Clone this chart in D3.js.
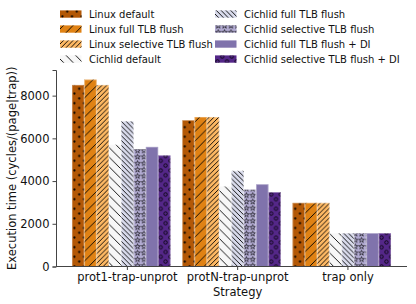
<!DOCTYPE html>
<html>
<head>
<meta charset="utf-8">
<script src="https://cdn.jsdelivr.net/npm/d3@7"></script>
<style>
  body { margin: 0; background: #fff; }
  text { font-family: "DejaVu Sans", sans-serif; fill: #111; }
</style>
</head>
<body>
<div id="chart"></div>
<script>
// ---- DATA ----
const groups = ["prot1-trap-unprot", "protN-trap-unprot", "trap only"];
const series = [
  "Linux default", "Linux full TLB flush", "Linux selective TLB flush", "Cichlid default",
  "Cichlid full TLB flush", "Cichlid selective TLB flush", "Cichlid full TLB flush + DI",
  "Cichlid selective TLB flush + DI"
];
const linuxDefault = [8500, 6850, 2980];
const linuxFull = [8750, 7000, 2980];
const linuxSelective = [8500, 7000, 2980];
const cichlidDefault = [5700, 3750, 1560];
const cichlidFull = [6800, 4480, 1560];
const cichlidSelective = [5500, 3600, 1560];
const cichlidFullDI = [5600, 3850, 1560];
const cichlidSelectiveDI = [5200, 3480, 1560];
const yTicks = [0, 2000, 4000, 6000, 8000];

const values = [linuxDefault, linuxFull, linuxSelective, cichlidDefault,
  cichlidFull, cichlidSelective, cichlidFullDI, cichlidSelectiveDI];
const colors = ["#b35806", "#e08214", "#fdb863", "#f7f7f7", "#d8daeb", "#b2abd2", "#8073ac", "#542788"];
const hatches = ["dots", "slash", "dslash", "back", "dback", "star", "none", "ring"];

const rows = [];
groups.forEach((g, gi) => {
  series.forEach((s, si) => rows.push({ group: g, series: s, si: si, value: values[si][gi] }));
});

const width = 416, height = 304;
const margin = { top: 70, right: 9, bottom: 37.5, left: 56 };

const svg = d3.select("#chart").append("svg")
  .attr("width", width).attr("height", height);

// ---- HATCH PATTERNS ----
const defs = svg.append("defs");
function pat(id, size) {
  return defs.append("pattern").attr("id", id)
    .attr("patternUnits", "userSpaceOnUse")
    .attr("width", size).attr("height", size);
}
function slashes(id, P, back) {
  const p = pat(id, P);
  const d = back
    ? `M0,0L${P},${P}M${-P / 2},${P / 2}L${P / 2},${P * 1.5}M${P / 2},${-P / 2}L${P * 1.5},${P / 2}`
    : `M0,${P}L${P},0M${-P / 2},${P / 2}L${P / 2},${-P / 2}M${P / 2},${P * 1.5}L${P * 1.5},${P / 2}`;
  p.append("path").attr("d", d).attr("stroke", "#000").attr("stroke-width", 0.9).attr("fill", "none");
}
slashes("slash", 9.6, false);
slashes("dslash", 4.8, false);
slashes("back", 9.6, true);
slashes("dback", 4.8, true);

const dp = pat("dots", 9.6);
[[2.4, 2.4], [7.2, 7.2]].forEach(c =>
  dp.append("circle").attr("cx", c[0]).attr("cy", c[1]).attr("r", 1.1).attr("fill", "#000"));

const rp = pat("ring", 9.6);
[[2.4, 2.4], [7.2, 7.2]].forEach(c =>
  rp.append("circle").attr("cx", c[0]).attr("cy", c[1]).attr("r", 1.7)
    .attr("fill", "none").attr("stroke", "#000").attr("stroke-width", 0.8));

const sp = pat("star", 6.4);
const star = d3.symbol().type(d3.symbolStar).size(9);
sp.append("path").attr("d", star()).attr("transform", "translate(3.2,3.4)")
  .attr("fill", "none").attr("stroke", "#000").attr("stroke-width", 0.6);

// ---- SCALES ----
const x = d3.scaleBand()
  .domain(groups)
  .range([margin.left, width - margin.right])
  .paddingInner(0.107)
  .paddingOuter(0.145);

const xs = d3.scaleBand()
  .domain(series)
  .range([0, x.bandwidth()]);

const y = d3.scaleLinear()
  .domain([0, 9200])
  .range([height - margin.bottom, margin.top]);

// ---- BARS ----
const bars = svg.append("g");
bars.selectAll("rect.base")
  .data(rows).enter().append("rect")
  .attr("class", "base")
  .attr("x", d => x(d.group) + xs(d.series))
  .attr("y", d => y(d.value))
  .attr("width", xs.bandwidth())
  .attr("height", d => y(0) - y(d.value))
  .attr("fill", d => colors[d.si]);

bars.selectAll("rect.hatch")
  .data(rows.filter(d => hatches[d.si] !== "none")).enter().append("rect")
  .attr("class", "hatch")
  .attr("x", d => x(d.group) + xs(d.series))
  .attr("y", d => y(d.value))
  .attr("width", xs.bandwidth())
  .attr("height", d => y(0) - y(d.value))
  .attr("fill", d => `url(#${hatches[d.si]})`);

bars.selectAll("rect.edge")
  .data(rows).enter().append("rect")
  .attr("class", "edge")
  .attr("x", d => x(d.group) + xs(d.series) + 0.4)
  .attr("y", d => y(d.value) + 0.4)
  .attr("width", xs.bandwidth() - 0.8)
  .attr("height", d => y(0) - y(d.value) - 0.4)
  .attr("fill", "none")
  .attr("stroke", "#fff").attr("stroke-opacity", 0.35).attr("stroke-width", 0.8);

// ---- AXES ----
// ticks sit on the 5th bar of each group
const tickShift = xs(series[4]) + xs.bandwidth() / 2 - x.bandwidth() / 2;
const xAxis = svg.append("g")
  .attr("transform", `translate(${tickShift},${height - margin.bottom})`)
  .call(d3.axisBottom(x).tickSizeOuter(0).tickSize(3.5).tickPadding(3));
xAxis.select(".domain").remove();
xAxis.selectAll("text").style("font-size", "11.5px").attr("fill", "#111");
xAxis.selectAll("line").attr("stroke", "#444");

svg.append("line")
  .attr("x1", margin.left).attr("x2", width - margin.right)
  .attr("y1", y(0)).attr("y2", y(0))
  .attr("stroke", "#444").attr("stroke-width", 1);

const yAxis = svg.append("g")
  .attr("transform", `translate(${margin.left},0)`)
  .call(d3.axisLeft(y).tickValues(yTicks).tickFormat(d3.format("d"))
    .tickSizeOuter(0).tickSize(3.5).tickPadding(3));
yAxis.select(".domain").attr("stroke", "#444");
yAxis.selectAll("text").style("font-size", "11.5px").attr("fill", "#111");
yAxis.selectAll("line").attr("stroke", "#444");

svg.append("text")
  .attr("x", (x(groups[0]) + x(groups[2]) + x.bandwidth()) / 2 + tickShift)
  .attr("y", 296)
  .attr("text-anchor", "middle")
  .style("font-size", "11.5px")
  .text("Strategy");

svg.append("text")
  .attr("transform", `translate(12,${(y(0) + margin.top) / 2}) rotate(-90)`)
  .attr("text-anchor", "middle")
  .attr("dy", "0.35em")
  .style("font-size", "11.5px")
  .text("Execution time (cycles/(page|trap))");

// ---- LEGEND ----
const legend = svg.append("g");
series.forEach((s, i) => {
  const col = Math.floor(i / 4), row = i % 4;
  const lx = col === 0 ? 60 : 215;
  const ly = 14 + row * 15;
  const g = legend.append("g").attr("transform", `translate(${lx},${ly})`);
  g.append("rect").attr("x", 0).attr("y", -3.6).attr("width", 21.5).attr("height", 7.3)
    .attr("fill", colors[i]);
  if (hatches[i] !== "none") {
    g.append("rect").attr("x", 0).attr("y", -3.6).attr("width", 21.5).attr("height", 7.3)
      .attr("fill", `url(#${hatches[i]})`);
  }
  g.append("text").attr("x", 29).attr("y", 0).attr("dy", "0.35em")
    .style("font-size", "10px").text(s);
});
</script>
</body>
</html>
